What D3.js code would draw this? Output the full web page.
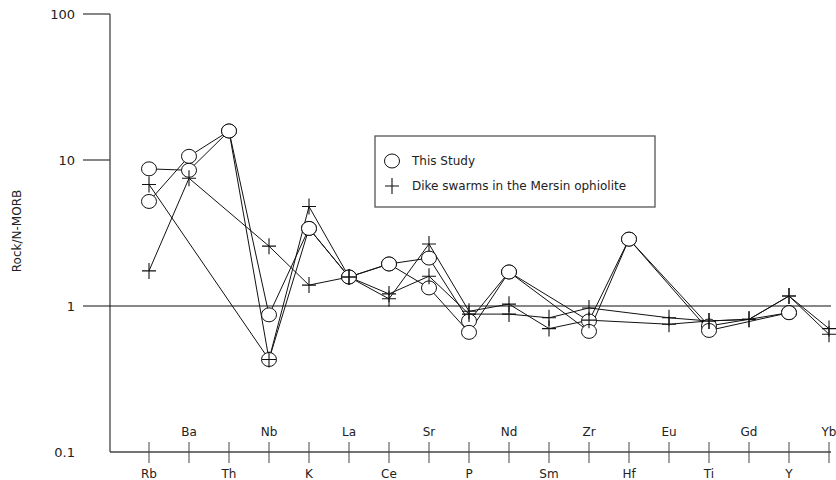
<!DOCTYPE html>
<html><head>
<meta charset="utf-8">
<script src="https://d3js.org/d3.v7.min.js"></script>
<style>
  body { margin: 0; background: #fff; }
  text { font-family: "DejaVu Sans", sans-serif; fill: #222; }
</style>
</head>
<body>
<svg id="chart" width="836" height="480"></svg>
<script>
// elements along the x axis (N-MORB normalised spider diagram)
const elements = ["Rb","Ba","Th","Nb","K","La","Ce","Sr","P","Nd","Sm","Zr","Hf","Eu","Ti","Gd","Y","Yb"];

// This Study (circles) - null where the element was not plotted
const study1 = [8.7, 8.5, 15.8, 0.87, 3.4, 1.58, 1.94, 2.13, 0.79, 1.71, null, 0.79, 2.87, null, 0.73, null, 0.90, null];
const study2 = [5.2, 10.6, 15.8, 0.43, 3.4, 1.58, 1.94, 1.33, 0.66, 1.71, null, 0.67, 2.87, null, 0.68, null, 0.90, null];

// Dike swarms in the Mersin ophiolite (crosses)
const dike1 = [1.74, 7.5, null, 2.57, 1.39, 1.58, 1.12, 2.66, 0.92, 1.03, 0.70, 0.80, null, 0.75, 0.79, 0.81, 1.17, 0.70];
const dike2 = [6.8, null, null, 0.43, 4.8, 1.58, 1.21, 1.6, 0.88, 0.88, 0.83, 0.97, null, 0.83, 0.79, 0.81, 1.17, 0.64];

const yTicks = [0.1, 1, 10, 100];
const legendItems = ["This Study", "Dike swarms in the Mersin ophiolite"];

const svg = d3.select("#chart");

const x = d3.scalePoint().domain(elements).range([149, 829]);
const y = d3.scaleLog().domain([0.1, 100]).range([452, 14]);

// axes
const axisColor = "#444";
svg.append("line").attr("x1", 110).attr("x2", 110).attr("y1", y(100)).attr("y2", y(0.1))
   .attr("stroke", axisColor).attr("stroke-width", 1.3);
svg.append("line").attr("x1", 110).attr("x2", 831).attr("y1", y(0.1)).attr("y2", y(0.1))
   .attr("stroke", axisColor).attr("stroke-width", 1.3);

yTicks.forEach(t => {
  if (t === 1) {
    svg.append("line").attr("x1", 83).attr("x2", 831).attr("y1", y(t)).attr("y2", y(t))
       .attr("stroke", "#111").attr("stroke-width", 1.2);
  } else if (t !== 0.1) {
    svg.append("line").attr("x1", 83).attr("x2", 110).attr("y1", y(t)).attr("y2", y(t))
       .attr("stroke", axisColor).attr("stroke-width", 1.3);
  }
  svg.append("text").attr("x", 75).attr("y", y(t)).attr("dy", "0.35em")
     .attr("text-anchor", "end").attr("font-size", 13).text(t);
});

svg.append("text").attr("transform", "translate(21,231) rotate(-90)")
   .attr("text-anchor", "middle").attr("font-size", 12).text("Rock/N-MORB");

// element ticks + labels alternating above/below the axis
elements.forEach((e, i) => {
  svg.append("line").attr("x1", x(e)).attr("x2", x(e)).attr("y1", 442).attr("y2", 463)
     .attr("stroke", axisColor).attr("stroke-width", 1);
  svg.append("text").attr("x", x(e)).attr("y", i % 2 === 0 ? 478 : 436)
     .attr("text-anchor", "middle").attr("font-size", 12).text(e);
});

// lines
const line = d3.line()
  .defined(d => d.v !== null)
  .x(d => x(d.e)).y(d => y(d.v));

const toPts = arr => elements.map((e, i) => ({e: e, v: arr[i]})).filter(d => d.v !== null);

const allSeries = [
  {vals: study1, sym: "circle"},
  {vals: study2, sym: "circle"},
  {vals: dike1, sym: "cross"},
  {vals: dike2, sym: "cross"}
];

const lineLayer = svg.append("g");
allSeries.forEach(s => {
  lineLayer.append("path").datum(toPts(s.vals)).attr("d", line)
    .attr("fill", "none").attr("stroke", "#111").attr("stroke-width", 1);
});

// markers: circles first, crosses on top
const markLayer = svg.append("g");
allSeries.filter(s => s.sym === "circle").forEach(s => {
  markLayer.selectAll(null).data(toPts(s.vals)).join("ellipse")
    .attr("cx", d => x(d.e)).attr("cy", d => y(d.v))
    .attr("rx", 7.5).attr("ry", 7)
    .attr("fill", "#fff").attr("stroke", "#111").attr("stroke-width", 1);
});
const crossPath = "M-7,0H7M0,-8V8";
allSeries.filter(s => s.sym === "cross").forEach(s => {
  markLayer.selectAll(null).data(toPts(s.vals)).join("path")
    .attr("transform", d => "translate(" + x(d.e) + "," + y(d.v) + ")")
    .attr("d", crossPath).attr("fill", "none").attr("stroke", "#111").attr("stroke-width", 1.1);
});

// legend
const lg = svg.append("g");
lg.append("rect").attr("x", 375).attr("y", 136).attr("width", 280).attr("height", 71)
  .attr("fill", "#fff").attr("stroke", "#555").attr("stroke-width", 1.3);
legendItems.forEach((t, i) => {
  const cy = 161 + i * 25;
  if (i === 0) {
    lg.append("ellipse").attr("cx", 392).attr("cy", cy).attr("rx", 7.5).attr("ry", 7)
      .attr("fill", "#fff").attr("stroke", "#111");
  } else {
    lg.append("path").attr("transform", "translate(392," + cy + ")").attr("d", crossPath)
      .attr("fill", "none").attr("stroke", "#111").attr("stroke-width", 1.1);
  }
  lg.append("text").attr("x", 412).attr("y", cy).attr("dy", "0.35em")
    .attr("font-size", 12).text(t);
});
</script>
</body></html>
